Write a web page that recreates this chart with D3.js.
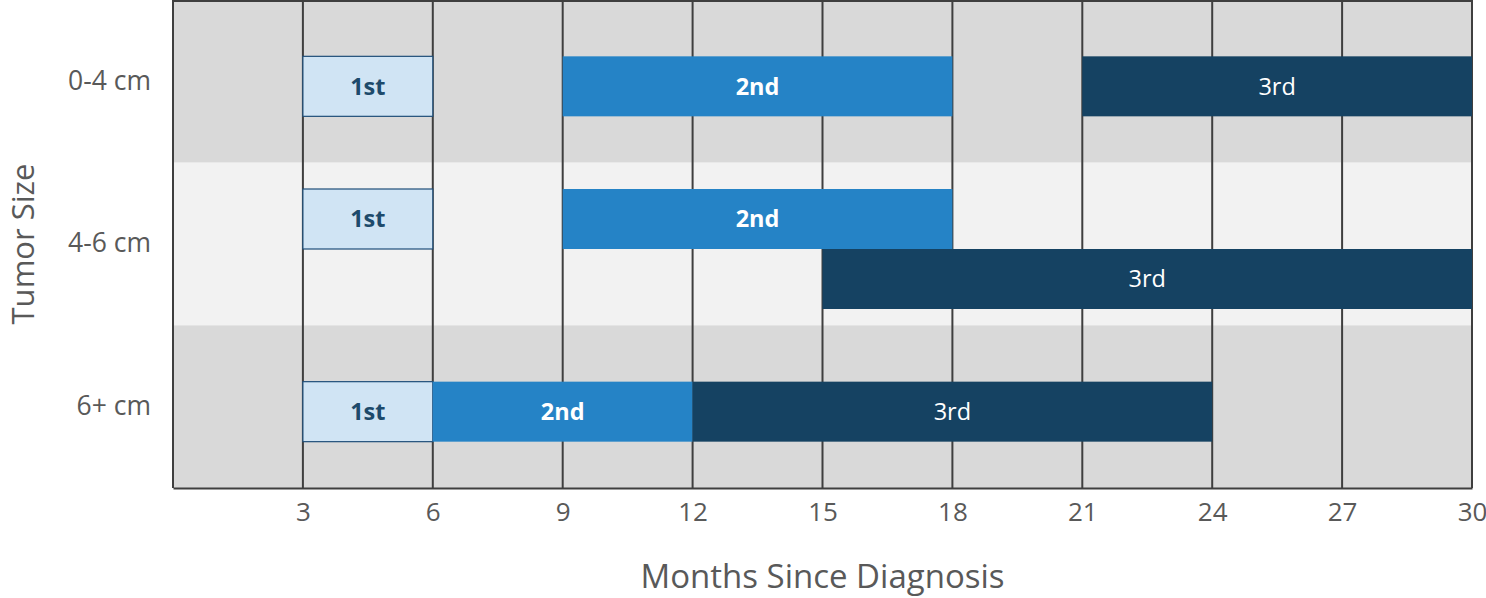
<!DOCTYPE html>
<html>
<head>
<meta charset="utf-8">
<script src="https://cdn.jsdelivr.net/npm/d3@7"></script>
<style>
  body { margin: 0; background: #fff; }
  svg text { font-family: "Open Sans", "Noto Sans", sans-serif; }
</style>
</head>
<body>
<div id="chart"></div>
<script>
const tumorSizes = ['0-4 cm', '4-6 cm', '6+ cm']
const monthTicks = [3, 6, 9, 12, 15, 18, 21, 24, 27, 30]
const phaseNames = ['1st', '2nd', '3rd']

// one entry per bar: size row, phase, start month, end month, lane inside the row
const barSize  = ['0-4 cm', '0-4 cm', '0-4 cm', '4-6 cm', '4-6 cm', '4-6 cm', '6+ cm', '6+ cm', '6+ cm']
const barPhase = ['1st', '2nd', '3rd', '1st', '2nd', '3rd', '1st', '2nd', '3rd']
const barStart = [3, 9, 21, 3, 9, 15, 3, 6, 12]
const barEnd   = [6, 18, 30, 6, 18, 30, 6, 12, 24]
const barLane  = [0, 0, 0, 0, 0, 1, 0, 0, 0]

const bars = barSize.map((s, i) => ({
  size: s, phase: barPhase[i], start: barStart[i], end: barEnd[i], lane: barLane[i]
}))

const W = 1486, H = 598
const chart = {left: 173, right: 1472, top: 0, bottom: 488}
const barH = 60

const svg = d3.select('#chart').append('svg')
  .attr('width', W).attr('height', H)

const x = d3.scaleLinear().domain([0, 30]).range([chart.left, chart.right])
const y = d3.scaleBand().domain(tumorSizes).range([chart.top, chart.bottom])

const fill = d3.scaleOrdinal().domain(phaseNames).range(['#d0e4f4', '#2583c6', '#154262'])
const labelColor = d3.scaleOrdinal().domain(phaseNames).range(['#1d4a6b', '#ffffff', '#ffffff'])
const labelWeight = d3.scaleOrdinal().domain(phaseNames).range(['bold', 'bold', 'normal'])

// row backgrounds
svg.selectAll('rect.band')
  .data(tumorSizes)
  .enter()
    .append('rect')
    .attr('class', 'band')
    .attr('x', chart.left)
    .attr('y', (d) => y(d))
    .attr('width', chart.right - chart.left)
    .attr('height', y.bandwidth())
    .attr('fill', (d, i) => i % 2 ? '#f2f2f2' : '#d9d9d9')

// vertical grid
svg.selectAll('line.grid')
  .data([0].concat(monthTicks))
  .enter()
    .append('line')
    .attr('class', 'grid')
    .attr('x1', (d) => x(d)).attr('x2', (d) => x(d))
    .attr('y1', chart.top).attr('y2', chart.bottom)
    .attr('stroke', '#3f3f3f')
    .attr('stroke-width', 2)

svg.append('line')
  .attr('x1', chart.left - 1).attr('x2', chart.right + 1)
  .attr('y1', chart.top + 1).attr('y2', chart.top + 1)
  .attr('stroke', '#3f3f3f').attr('stroke-width', 2)

const laneCount = (s) => d3.max(bars.filter((b) => b.size === s), (b) => b.lane) + 1
const barY = (d) => y(d.size) + y.bandwidth() / 2 - laneCount(d.size) * barH / 2 + d.lane * barH + 5

const g = svg.selectAll('g.bar')
  .data(bars)
  .enter()
    .append('g')
    .attr('class', 'bar')

g.append('rect')
  .attr('x', (d) => x(d.start))
  .attr('y', barY)
  .attr('width', (d) => x(d.end) - x(d.start))
  .attr('height', barH)
  .attr('fill', (d) => fill(d.phase))
  .attr('stroke', (d) => d.phase === '1st' ? '#1f4e79' : 'none')
  .attr('stroke-width', 1.2)

g.append('text')
  .attr('x', (d) => (x(d.start) + x(d.end)) / 2)
  .attr('y', (d) => barY(d) + barH / 2)
  .attr('dy', '0.35em')
  .attr('text-anchor', 'middle')
  .attr('font-size', 23.5)
  .attr('font-weight', (d) => labelWeight(d.phase))
  .attr('fill', (d) => labelColor(d.phase))
  .text((d) => d.phase)

// x axis
const xAxis = svg.append('g')
  .attr('transform', `translate(0,${chart.bottom})`)
  .call(d3.axisBottom(x).tickValues(monthTicks).tickSize(0).tickPadding(15))
xAxis.select('.domain').attr('stroke', '#3f3f3f').attr('stroke-width', 2)
xAxis.selectAll('text')
  .attr('font-size', 26)
  .attr('fill', '#595959')
  .style('font-family', '"Open Sans", sans-serif')

// y axis labels
const yAxis = svg.append('g')
  .attr('transform', `translate(${chart.left},0)`)
  .call(d3.axisLeft(y).tickSize(0).tickPadding(22))
yAxis.select('.domain').remove()
yAxis.selectAll('text')
  .attr('font-size', 26.5)
  .attr('fill', '#595959')
  .style('font-family', '"Open Sans", sans-serif')

// titles
svg.append('text')
  .attr('x', (chart.left + chart.right) / 2)
  .attr('y', 588)
  .attr('text-anchor', 'middle')
  .attr('font-size', 33)
  .attr('fill', '#595959')
  .text('Months Since Diagnosis')

svg.append('text')
  .attr('transform', `translate(34,${(chart.top + chart.bottom) / 2}) rotate(-90)`)
  .attr('text-anchor', 'middle')
  .attr('font-size', 31)
  .attr('fill', '#595959')
  .text('Tumor Size')
</script>
</body>
</html>
